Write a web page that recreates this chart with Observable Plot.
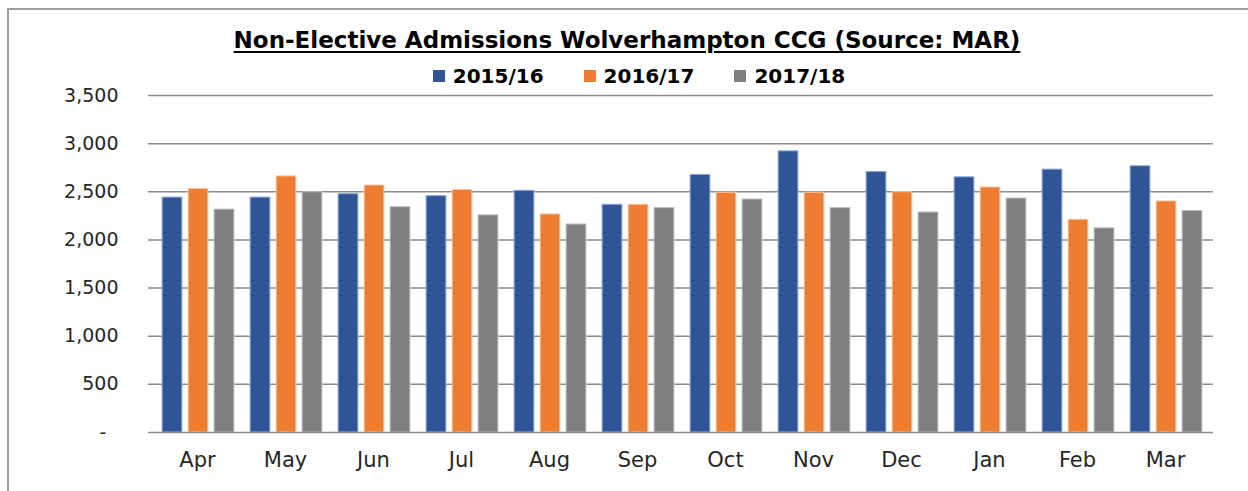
<!DOCTYPE html>
<html>
<head>
<meta charset="utf-8">
<script src="https://cdn.jsdelivr.net/npm/d3@7"></script>
<script src="https://cdn.jsdelivr.net/npm/@observablehq/plot@0.6"></script>
<style>
  html, body { margin: 0; padding: 0; background: #fff; }
  #wrap { position: relative; width: 1248px; height: 491px; overflow: hidden; font-family: "DejaVu Sans", sans-serif; }
  #frame { position: absolute; left: 7px; top: 8px; right: -10px; bottom: -10px; border-top: 2px solid #a0a0a0; border-left: 2px solid #a0a0a0; }
  #title { position: absolute; left: 0; top: 27px; width: 1254px; text-align: center; font-weight: bold; font-size: 23px; line-height: 27px; color: #000; text-decoration: underline; text-underline-offset: 3px; text-decoration-thickness: 2px; }
  #legend { position: absolute; left: 0; top: 64px; width: 1278px; display: flex; justify-content: center; gap: 40px; font-weight: bold; font-size: 20px; line-height: 24px; color: #000; }
  #legend .item { display: flex; align-items: center; gap: 8px; }
  #legend .sw { width: 12px; height: 12px; display: inline-block; }
  #chart { position: absolute; left: 0; top: 0; }
  #chart svg g[aria-label="x-axis tick label"] text { font-size: 21px; }
</style>
</head>
<body>
<div id="wrap">
  <div id="frame"></div>
  <div id="chart"></div>
  <div id="title"></div>
  <div id="legend"></div>
</div>
<script>
const titleText = "Non-Elective Admissions Wolverhampton CCG (Source: MAR)";
const months = ["Apr", "May", "Jun", "Jul", "Aug", "Sep", "Oct", "Nov", "Dec", "Jan", "Feb", "Mar"];
const seriesNames = ["2015/16", "2016/17", "2017/18"];
const seriesColors = ["#2F5597", "#ED7D31", "#7F7F7F"];
const seriesStroke = ["#8EA6D4", "#F8C9A8", "#BDBDBD"];
const v1516 = [2440, 2440, 2475, 2455, 2510, 2365, 2675, 2920, 2705, 2650, 2730, 2765];
const v1617 = [2530, 2660, 2565, 2520, 2265, 2365, 2490, 2490, 2495, 2545, 2210, 2400];
const v1718 = [2315, 2495, 2340, 2255, 2160, 2330, 2420, 2330, 2285, 2430, 2120, 2300];
const yTicks = [0, 500, 1000, 1500, 2000, 2500, 3000, 3500];

const seriesValues = [v1516, v1617, v1718];
const seriesDx = [-25, 1, 27];

document.getElementById("title").textContent = titleText;
const legend = document.getElementById("legend");
seriesNames.forEach((name, i) => {
  const item = document.createElement("div");
  item.className = "item";
  const sw = document.createElement("span");
  sw.className = "sw";
  sw.style.background = seriesColors[i];
  const t = document.createElement("span");
  t.textContent = name;
  item.appendChild(sw);
  item.appendChild(t);
  legend.appendChild(item);
});

const width = 1248, height = 491;
const marginLeft = 148, marginRight = 35, marginTop = 95, marginBottom = 59;
const bandW = (width - marginLeft - marginRight) / months.length;
const barW = 20.5;
const inset = (bandW - barW) / 2;

const fmt = d => d === 0 ? "-\u00a0\u00a0" : d3.format(",")(d);

const barMarks = seriesValues.map((vals, i) =>
  Plot.barY(months.map((m, j) => ({month: m, value: vals[j]})), {
    x: "month", y: "value",
    fill: seriesColors[i], stroke: seriesStroke[i], strokeWidth: 1,
    insetLeft: inset, insetRight: inset, dx: seriesDx[i]
  })
);

const chart = Plot.plot({
  width, height, marginLeft, marginRight, marginTop, marginBottom,
  style: {fontFamily: "DejaVu Sans, sans-serif", fontSize: "19px", color: "#262626", background: "transparent"},
  x: {type: "band", domain: months, padding: 0, tickSize: 0, tickPadding: 20, label: null},
  y: {domain: [0, 3500], ticks: yTicks, tickFormat: fmt, tickSize: 0, tickPadding: 30, label: null},
  marks: [
    Plot.ruleY(yTicks.filter(d => d > 0), {stroke: "#8c8c8c", strokeWidth: 1.5}),
    ...barMarks,
    Plot.ruleY([0], {stroke: "#8c8c8c", strokeWidth: 1.5})
  ]
});
document.getElementById("chart").appendChild(chart);
</script>
</body>
</html>
